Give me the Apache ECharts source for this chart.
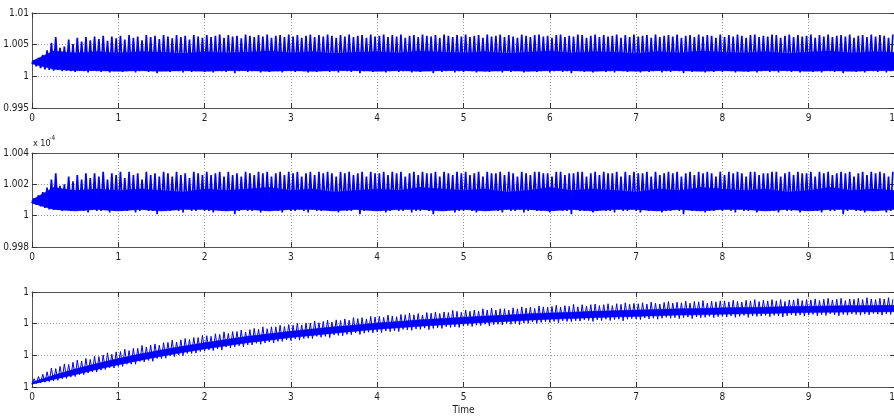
<!DOCTYPE html>
<html>
<head>
<meta charset="utf-8">
<script src="https://cdn.jsdelivr.net/npm/echarts@6/dist/echarts.min.js"></script>
<style>
html,body{margin:0;padding:0;background:#fff;}
#chart{width:894px;height:416px;}
</style>
</head>
<body>
<div id="chart"></div>
<script>
// ---------------- DATA ----------------
const xTicks = [0,1,2,3,4,5,6,7,8,9,10];
const spikeStep = 0.05;   // time between oscillation cycles
const bandStep = 0.25;    // time between core-band samples

// Panel 1
const hi1 = [1.0025,1.0029,1.0034,1.0041,1.0053,1.0062,1.0045,1.0047,1.0058,1.0051,1.0061,1.0055,1.0062,1.0057,1.0063,
1.0059,1.0064,1.0056,1.0063,1.0060,1.0064,1.0058,1.0065,1.0061,1.0063,1.0057,1.0065,1.0062,1.0064,1.0059,1.0065,1.0063,1.0060,1.0065,1.0062,1.0064,1.0058,1.0065,1.0063,1.0061,
1.0065,1.0062,1.0064,1.0066,1.0061,1.0065,1.0063,1.0064,1.0060,1.0066,1.0064,1.0062,1.0065,1.0063,1.0066,1.0061,1.0064,1.0065,1.0062,1.0066,
1.0063,1.0065,1.0061,1.0064,1.0066,1.0062,1.0065,1.0063,1.0066,1.0064,1.0061,1.0065,1.0063,1.0066,1.0062,1.0064,1.0065,1.0061,1.0066,1.0063,
1.0064,1.0066,1.0062,1.0065,1.0063,1.0066,1.0061,1.0064,1.0065,1.0062,1.0066,1.0064,1.0063,1.0065,1.0061,1.0066,1.0064,1.0062,1.0065,1.0063,
1.0066,1.0062,1.0064,1.0065,1.0061,1.0066,1.0063,1.0064,1.0066,1.0062,1.0065,1.0063,1.0061,1.0066,1.0064,1.0062,1.0065,1.0066,1.0063,1.0064,
1.0061,1.0065,1.0066,1.0062,1.0064,1.0063,1.0066,1.0065,1.0061,1.0064,1.0066,1.0062,1.0065,1.0063,1.0064,1.0066,1.0061,1.0065,1.0062,1.0066,
1.0063,1.0064,1.0065,1.0061,1.0066,1.0062,1.0064,1.0065,1.0063,1.0066,1.0061,1.0064,1.0065,1.0062,1.0066,1.0063,1.0065,1.0064,1.0061,1.0066,
1.0062,1.0065,1.0063,1.0066,1.0064,1.0061,1.0065,1.0066,1.0062,1.0064,1.0063,1.0066,1.0065,1.0061,1.0064,1.0066,1.0062,1.0065,1.0063,1.0064,
1.0066,1.0061,1.0065,1.0063,1.0066,1.0062,1.0064,1.0065,1.0063,1.0066,1.0061,1.0064,1.0065,1.0062,1.0066,1.0063,1.0065,1.0064,1.0061,1.0066];
const lo1 = [1.0019,1.0016,1.0013,1.0011,1.0010,1.0009,1.0010,1.0008,1.0009,1.0008,
1.0007,1.0009,1.0008,1.0006,1.0009,1.0008,1.0007,1.0009,1.0006,1.0008,
1.0009,1.0007,1.0008,1.0010,1.0006,1.0008,1.0009,1.0007,1.0008,1.0005,1.0009,1.0008,1.0007,1.0009,1.0008,1.0006,1.0009,1.0007,1.0008,1.0009,
1.0007,1.0008,1.0006,1.0009,1.0008,1.0007,1.0009,1.0005,1.0008,1.0009,1.0007,1.0008,1.0009,1.0006,1.0008,1.0007,1.0009,1.0008,1.0006,1.0009,
1.0008,1.0007,1.0009,1.0008,1.0006,1.0009,1.0007,1.0008,1.0010,1.0007,1.0008,1.0006,1.0009,1.0008,1.0007,1.0009,1.0005,1.0008,1.0009,1.0007,
1.0009,1.0008,1.0006,1.0008,1.0009,1.0007,1.0008,1.0009,1.0006,1.0008,1.0007,1.0009,1.0008,1.0005,1.0009,1.0007,1.0008,1.0009,1.0006,1.0008,
1.0007,1.0009,1.0008,1.0006,1.0009,1.0008,1.0007,1.0009,1.0008,1.0006,1.0009,1.0007,1.0008,1.0010,1.0006,1.0008,1.0009,1.0007,1.0008,1.0009,
1.0006,1.0008,1.0009,1.0007,1.0008,1.0005,1.0009,1.0008,1.0007,1.0009,1.0006,1.0008,1.0009,1.0007,1.0008,1.0006,1.0009,1.0008,1.0007,1.0009,
1.0008,1.0006,1.0009,1.0007,1.0008,1.0009,1.0006,1.0008,1.0007,1.0009,1.0008,1.0005,1.0009,1.0007,1.0008,1.0009,1.0006,1.0008,1.0007,1.0009,
1.0007,1.0009,1.0008,1.0006,1.0009,1.0008,1.0007,1.0009,1.0006,1.0008,1.0009,1.0007,1.0008,1.0006,1.0009,1.0008,1.0007,1.0010,1.0006,1.0008,
1.0009,1.0007,1.0008,1.0006,1.0009,1.0008,1.0007,1.0009,1.0005,1.0008,1.0009,1.0007,1.0008,1.0006,1.0009,1.0008,1.0007,1.0009,1.0006,1.0008];
const coreLo1 = [1.0020,1.0011,1.0009,1.0009,1.0008,1.0009,1.0008,1.0009,1.0008,1.0009,
1.0009,1.0008,1.0009,1.0008,1.0009,1.0009,1.0008,1.0009,1.0008,1.0009,
1.0009,1.0008,1.0009,1.0008,1.0009,1.0009,1.0008,1.0009,1.0008,1.0009,
1.0009,1.0008,1.0009,1.0008,1.0009,1.0009,1.0008,1.0009,1.0008,1.0009,1.0009];
const coreHi1 = [1.0024,1.0040,1.0037,1.0039,1.0037,1.0039,1.0038,1.0036,1.0039,1.0037,
1.0038,1.0040,1.0037,1.0039,1.0036,1.0038,1.0039,1.0037,1.0040,1.0038,
1.0037,1.0039,1.0036,1.0038,1.0040,1.0037,1.0039,1.0038,1.0036,1.0039,
1.0037,1.0040,1.0038,1.0037,1.0039,1.0036,1.0038,1.0040,1.0037,1.0039,1.0038];
const yTicks1 = [0.995, 1, 1.005, 1.01];

// Panel 2 (values shown x 10^-4)
const hi2 = [1.0011,1.0013,1.0015,1.0018,1.0023,1.0027,1.0019,1.0020,1.0025,1.0022,1.0026,1.0023,1.0027,1.0024,1.0027,
1.0025,1.0028,1.0023,1.0027,1.0026,1.0028,1.0024,1.0028,1.0026,1.0027,1.0023,1.0028,1.0026,1.0027,1.0025,1.0028,1.0027,1.0025,1.0028,1.0026,1.0027,1.0024,1.0028,1.0027,1.0026,
1.0028,1.0026,1.0027,1.0028,1.0025,1.0028,1.0026,1.0027,1.0025,1.0028,1.0027,1.0026,1.0028,1.0027,1.0028,1.0025,1.0027,1.0028,1.0026,1.0028,
1.0027,1.0028,1.0025,1.0027,1.0028,1.0026,1.0028,1.0027,1.0028,1.0027,1.0025,1.0028,1.0027,1.0028,1.0026,1.0027,1.0028,1.0025,1.0028,1.0027,
1.0027,1.0028,1.0026,1.0028,1.0027,1.0028,1.0025,1.0027,1.0028,1.0026,1.0028,1.0027,1.0027,1.0028,1.0025,1.0028,1.0027,1.0026,1.0028,1.0027,
1.0028,1.0026,1.0027,1.0028,1.0025,1.0028,1.0027,1.0027,1.0028,1.0026,1.0028,1.0027,1.0025,1.0028,1.0027,1.0026,1.0028,1.0028,1.0027,1.0027,
1.0025,1.0028,1.0028,1.0026,1.0027,1.0027,1.0028,1.0028,1.0025,1.0027,1.0028,1.0026,1.0028,1.0027,1.0027,1.0028,1.0025,1.0028,1.0026,1.0028,
1.0027,1.0027,1.0028,1.0025,1.0028,1.0026,1.0027,1.0028,1.0027,1.0028,1.0025,1.0027,1.0028,1.0026,1.0028,1.0027,1.0028,1.0027,1.0025,1.0028,
1.0026,1.0028,1.0027,1.0028,1.0027,1.0025,1.0028,1.0028,1.0026,1.0027,1.0027,1.0028,1.0028,1.0025,1.0027,1.0028,1.0026,1.0028,1.0027,1.0027,
1.0028,1.0025,1.0028,1.0027,1.0028,1.0026,1.0027,1.0028,1.0027,1.0028,1.0025,1.0027,1.0028,1.0026,1.0028,1.0027,1.0028,1.0027,1.0025,1.0028];
const lo2 = [1.0008,1.0007,1.0006,1.0005,1.0004,1.0004,1.0004,1.0003,1.0004,1.0003,
1.0003,1.0004,1.0003,1.0002,1.0004,1.0003,1.0003,1.0004,1.0002,1.0003,
1.0004,1.0003,1.0003,1.0004,1.0002,1.0003,1.0004,1.0003,1.0003,1.0001,1.0004,1.0003,1.0003,1.0004,1.0003,1.0002,1.0004,1.0003,1.0003,1.0004,
1.0003,1.0003,1.0002,1.0004,1.0003,1.0003,1.0004,1.0001,1.0003,1.0004,1.0003,1.0003,1.0004,1.0002,1.0003,1.0003,1.0004,1.0003,1.0002,1.0004,
1.0003,1.0003,1.0004,1.0003,1.0002,1.0004,1.0003,1.0003,1.0004,1.0003,1.0003,1.0002,1.0004,1.0003,1.0003,1.0004,1.0001,1.0003,1.0004,1.0003,
1.0004,1.0003,1.0002,1.0003,1.0004,1.0003,1.0003,1.0004,1.0002,1.0003,1.0003,1.0004,1.0003,1.0001,1.0004,1.0003,1.0003,1.0004,1.0002,1.0003,
1.0003,1.0004,1.0003,1.0002,1.0004,1.0003,1.0003,1.0004,1.0003,1.0002,1.0004,1.0003,1.0003,1.0004,1.0002,1.0003,1.0004,1.0003,1.0003,1.0004,
1.0002,1.0003,1.0004,1.0003,1.0003,1.0001,1.0004,1.0003,1.0003,1.0004,1.0002,1.0003,1.0004,1.0003,1.0003,1.0002,1.0004,1.0003,1.0003,1.0004,
1.0003,1.0002,1.0004,1.0003,1.0003,1.0004,1.0002,1.0003,1.0003,1.0004,1.0003,1.0001,1.0004,1.0003,1.0003,1.0004,1.0002,1.0003,1.0003,1.0004,
1.0003,1.0004,1.0003,1.0002,1.0004,1.0003,1.0003,1.0004,1.0002,1.0003,1.0004,1.0003,1.0003,1.0002,1.0004,1.0003,1.0003,1.0004,1.0002,1.0003,
1.0004,1.0003,1.0003,1.0002,1.0004,1.0003,1.0003,1.0004,1.0001,1.0003,1.0004,1.0003,1.0003,1.0002,1.0004,1.0003,1.0003,1.0004,1.0002,1.0003];
const coreLo2 = [1.0008,1.0004,1.0003,1.0004,1.0003,1.0004,1.0003,1.0004,1.0004,1.0003,
1.0004,1.0003,1.0004,1.0004,1.0003,1.0004,1.0003,1.0004,1.0004,1.0003,
1.0004,1.0003,1.0004,1.0004,1.0003,1.0004,1.0003,1.0004,1.0004,1.0003,
1.0004,1.0003,1.0004,1.0004,1.0003,1.0004,1.0003,1.0004,1.0004,1.0003,1.0004];
const coreHi2 = [1.0010,1.0018,1.0016,1.0017,1.0016,1.0017,1.0016,1.0015,1.0017,1.0016,
1.0017,1.0018,1.0016,1.0017,1.0015,1.0016,1.0017,1.0016,1.0018,1.0017,
1.0016,1.0017,1.0015,1.0016,1.0018,1.0016,1.0017,1.0016,1.0015,1.0017,
1.0016,1.0018,1.0017,1.0016,1.0017,1.0015,1.0016,1.0018,1.0016,1.0017,1.0016];
const yTicks2 = [0.998, 1, 1.002, 1.004];

// Panel 3
const hi3 = [1.000026,1.000033,1.000040,1.000048,1.000060,1.000058,1.000065,1.000073,1.000071,1.000078,1.000085,1.000082,1.000090,1.000087,1.000097,1.000096,1.000101,1.000108,1.000103,1.000111,
1.000112,1.000119,1.000115,1.000122,1.000122,1.000131,1.000126,1.000132,1.000136,1.000132,1.000140,1.000141,1.000148,1.000142,1.000149,1.000153,1.000150,1.000156,1.000156,1.000163,
1.000162,1.000160,1.000168,1.000166,1.000174,1.000169,1.000175,1.000175,1.000180,1.000174,1.000181,1.000185,1.000182,1.000190,1.000184,1.000190,1.000190,1.000195,1.000191,1.000197,
1.000195,1.000201,1.000196,1.000202,1.000202,1.000208,1.000203,1.000207,1.000211,1.000205,1.000212,1.000210,1.000215,1.000211,1.000219,1.000216,1.000219,1.000215,1.000223,1.000221,
1.000223,1.000220,1.000227,1.000224,1.000222,1.000229,1.000228,1.000233,1.000228,1.000232,1.000227,1.000235,1.000233,1.000237,1.000232,1.000237,1.000235,1.000242,1.000239,1.000236,
1.000243,1.000239,1.000243,1.000239,1.000247,1.000243,1.000249,1.000243,1.000247,1.000247,1.000243,1.000250,1.000247,1.000253,1.000249,1.000252,1.000248,1.000256,1.000253,1.000252,
1.000254,1.000258,1.000252,1.000257,1.000255,1.000261,1.000253,1.000260,1.000256,1.000260,1.000262,1.000257,1.000260,1.000263,1.000257,1.000263,1.000261,1.000266,1.000261,1.000264,
1.000263,1.000266,1.000262,1.000268,1.000265,1.000262,1.000267,1.000270,1.000265,1.000268,1.000266,1.000271,1.000265,1.000270,1.000269,1.000273,1.000265,1.000271,1.000269,1.000272,
1.000272,1.000269,1.000274,1.000270,1.000268,1.000274,1.000272,1.000276,1.000270,1.000274,1.000272,1.000276,1.000272,1.000276,1.000270,1.000275,1.000275,1.000279,1.000273,1.000276,
1.000275,1.000278,1.000273,1.000277,1.000280,1.000275,1.000277,1.000280,1.000273,1.000278,1.000277,1.000280,1.000276,1.000282,1.000278,1.000276,1.000280,1.000278,1.000282,1.000277];
const lo3 = [1.000009,1.000011,1.000013,1.000015,1.000017,1.000019,1.000021,1.000026,1.000027,1.000031,1.000033,1.000039,1.000039,1.000044,1.000048,1.000047,1.000053,1.000055,1.000061,1.000060,
1.000065,1.000065,1.000072,1.000072,1.000072,1.000081,1.000079,1.000084,1.000081,1.000090,1.000090,1.000091,1.000098,1.000096,1.000101,1.000099,1.000106,1.000106,1.000107,1.000112,
1.000113,1.000117,1.000115,1.000120,1.000117,1.000126,1.000124,1.000127,1.000130,1.000127,1.000133,1.000133,1.000138,1.000135,1.000139,1.000142,1.000139,1.000144,1.000144,1.000149,
1.000147,1.000152,1.000148,1.000153,1.000154,1.000153,1.000160,1.000157,1.000160,1.000156,1.000164,1.000163,1.000162,1.000166,1.000165,1.000171,1.000166,1.000170,1.000173,1.000171,
1.000174,1.000172,1.000177,1.000175,1.000177,1.000175,1.000182,1.000180,1.000179,1.000183,1.000182,1.000186,1.000181,1.000185,1.000187,1.000185,1.000190,1.000188,1.000190,1.000188,
1.000192,1.000194,1.000191,1.000195,1.000194,1.000198,1.000193,1.000197,1.000198,1.000196,1.000201,1.000198,1.000200,1.000197,1.000202,1.000201,1.000205,1.000201,1.000204,1.000206,
1.000204,1.000207,1.000203,1.000209,1.000207,1.000206,1.000209,1.000208,1.000212,1.000210,1.000207,1.000212,1.000210,1.000214,1.000210,1.000213,1.000214,1.000209,1.000214,1.000216,
1.000215,1.000213,1.000218,1.000215,1.000217,1.000214,1.000217,1.000220,1.000217,1.000219,1.000216,1.000219,1.000221,1.000216,1.000221,1.000219,1.000220,1.000223,1.000219,1.000222,
1.000223,1.000221,1.000224,1.000220,1.000223,1.000226,1.000220,1.000224,1.000223,1.000224,1.000226,1.000222,1.000226,1.000224,1.000221,1.000225,1.000228,1.000225,1.000227,1.000224,
1.000227,1.000229,1.000225,1.000228,1.000226,1.000231,1.000228,1.000225,1.000229,1.000227,1.000231,1.000229,1.000227,1.000230,1.000228,1.000232,1.000230,1.000227,1.000231,1.000229];
const coreLo3 = [1.000009,1.000024,1.000039,1.000055,1.000070,1.000084,1.000097,1.000109,1.000120,1.000130,
1.000140,1.000148,1.000156,1.000163,1.000170,1.000176,1.000182,1.000187,1.000192,1.000196,
1.000200,1.000204,1.000207,1.000211,1.000214,1.000216,1.000219,1.000221,1.000223,1.000225,
1.000227,1.000228,1.000230,1.000231,1.000232,1.000234,1.000235,1.000236,1.000237,1.000237,1.000238];
const coreHi3 = [1.000015,1.000037,1.000057,1.000074,1.000090,1.000104,1.000117,1.000129,1.000140,1.000150,
1.000160,1.000168,1.000176,1.000183,1.000190,1.000196,1.000202,1.000207,1.000212,1.000216,
1.000220,1.000224,1.000227,1.000231,1.000234,1.000236,1.000239,1.000241,1.000243,1.000245,
1.000247,1.000248,1.000250,1.000251,1.000252,1.000254,1.000255,1.000256,1.000257,1.000257,1.000258];
const yTicks3 = [1, 1.0001, 1.0002, 1.0003];
const yTickText3 = ['1','1','1','1'];

// ---------------- CHART ----------------
const FONT = "'Liberation Sans Narrow','DejaVu Sans Condensed','Liberation Sans',Arial,sans-serif";
const BLUE = '#0000ff';
const AX = '#555';
const panels = [
  {top: 13,  height: 95, hi: hi1, lo: lo1, cLo: coreLo1, cHi: coreHi1, ticks: yTicks1, fmt: null, lw: 1.7},
  {top: 153, height: 94, hi: hi2, lo: lo2, cLo: coreLo2, cHi: coreHi2, ticks: yTicks2, fmt: null, lw: 1.7},
  {top: 292, height: 95, hi: hi3, lo: lo3, cLo: coreLo3, cHi: coreHi3, ticks: yTicks3, fmt: yTickText3, lw: 1}
];

function bandItem(params, api) {
  const a = api.coord([api.value(0), api.value(1)]);
  const b = api.coord([api.value(3), api.value(4)]);
  const c = api.coord([api.value(3), api.value(5)]);
  const d = api.coord([api.value(0), api.value(2)]);
  return {type: 'polygon', shape: {points: [a, b, c, d]},
          style: {fill: BLUE, stroke: BLUE, lineWidth: 0.5}};
}

const grid = [], xAxis = [], yAxis = [], series = [];
panels.forEach((p, k) => {
  grid.push({left: 32, top: p.top, width: 863, height: p.height, show: false,
             outerBoundsMode: 'none', containLabel: false});
  const ymin = p.ticks[0], ymax = p.ticks[p.ticks.length - 1];
  const yint = p.ticks[1] - p.ticks[0];
  xAxis.push({
    type: 'value', gridIndex: k, min: xTicks[0], max: xTicks[xTicks.length-1], interval: 1,
    axisLine: {show: true, onZero: false, lineStyle: {color: AX, width: 1}},
    axisTick: {show: true, inside: true, length: 5, lineStyle: {color: '#333'}},
    axisLabel: {margin: 5, fontSize: 10, color: '#222', fontFamily: FONT, hideOverlap: false},
    splitLine: {show: true, lineStyle: {color: '#9a9a9a', type: [1, 2], width: 1}},
    name: k === 2 ? 'Time' : '', nameLocation: 'middle', nameGap: 18,
    nameTextStyle: {fontSize: 10, color: '#222', fontFamily: FONT}
  });
  xAxis.push({
    type: 'value', gridIndex: k, position: 'top', min: xTicks[0], max: xTicks[xTicks.length-1], interval: 1,
    axisLine: {show: true, onZero: false, lineStyle: {color: AX, width: 1}},
    axisTick: {show: true, inside: true, length: 5, lineStyle: {color: '#333'}},
    axisLabel: {show: false}, splitLine: {show: false}
  });
  yAxis.push({
    type: 'value', gridIndex: k, min: ymin, max: ymax, interval: yint,
    axisLine: {show: true, onZero: false, lineStyle: {color: AX, width: 1}},
    axisTick: {show: true, inside: true, length: 5, lineStyle: {color: '#333'}},
    axisLabel: {margin: 3, fontSize: 10, color: '#222', fontFamily: FONT,
      formatter: p.fmt ? (v, i) => p.fmt[i] : (v => String(+v.toFixed(4)))},
    splitLine: {show: true, lineStyle: {color: '#9a9a9a', type: [1, 2], width: 1}}
  });
  yAxis.push({
    type: 'value', gridIndex: k, position: 'right', min: ymin, max: ymax, interval: yint,
    axisLine: {show: true, onZero: false, lineStyle: {color: AX, width: 1}},
    axisTick: {show: true, inside: true, length: 5, lineStyle: {color: '#333'}},
    axisLabel: {show: false}, splitLine: {show: false}
  });
  const xi = 2*k, yi = 2*k;
  const band = [];
  for (let i = 0; i + 1 < p.cLo.length; i++) {
    band.push([i*bandStep, p.cLo[i], p.cHi[i], (i+1)*bandStep, p.cLo[i+1], p.cHi[i+1]]);
  }
  series.push({type: 'custom', xAxisIndex: xi, yAxisIndex: yi, data: band,
    encode: {x: [0, 3], y: [1, 2, 4, 5]}, renderItem: bandItem, silent: true, z: 2});
  const n = Math.min(p.hi.length, p.lo.length);
  const zz = [];
  for (let i = 0; i < n; i++) {
    zz.push([i*spikeStep, p.lo[i]]);
    zz.push([i*spikeStep + spikeStep/2, p.hi[i]]);
  }
  series.push({type: 'line', xAxisIndex: xi, yAxisIndex: yi, data: zz, symbol: 'none',
    lineStyle: {color: BLUE, width: p.lw}, silent: true, z: 3});
});

const chart = echarts.init(document.getElementById('chart'), null, {renderer: 'canvas'});
chart.setOption({
  animation: false,
  backgroundColor: '#fff',
  grid, xAxis, yAxis, series,
  graphic: [
    {type: 'text', left: 33, top: 139, style: {text: 'x 10', fontSize: 9, fill: '#222', fontFamily: FONT}},
    {type: 'text', left: 49, top: 135, style: {text: '-4', fontSize: 7, fill: '#222', fontFamily: FONT}}
  ]
});
</script>
</body>
</html>
